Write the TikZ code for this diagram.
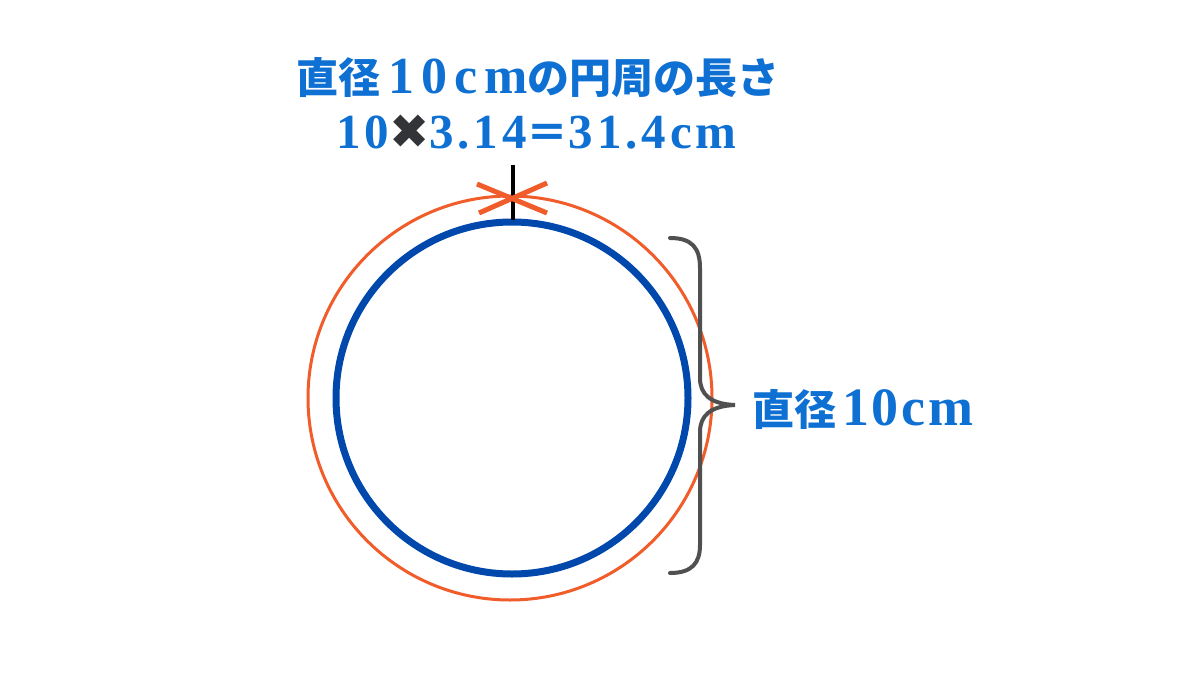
\documentclass[tikz,border=0pt]{standalone}
\usepackage{fontspec}
\newfontfamily\cjk{Noto Sans CJK JP}
\newfontfamily\lat{Liberation Serif}
\newfontfamily\sym{DejaVu Sans}
\definecolor{txtblue}{RGB}{14,112,210}
\definecolor{circblue}{RGB}{0,72,172}
\definecolor{corange}{RGB}{240,92,42}
\definecolor{bracegray}{RGB}{80,80,80}
\definecolor{xgray}{RGB}{50,52,56}
\tikzset{
  lbl/.style={inner sep=0pt, text=txtblue, font=\fontsize{42}{42}\selectfont},
}
\newcommand{\jp}[1]{{\cjk\bfseries #1}}
\newcommand{\la}[3]{{\lat\bfseries\fontsize{#1}{#1}\selectfont\addfontfeature{LetterSpace=#2}#3}}
\begin{document}
\begin{tikzpicture}[x=1pt,y=-1pt]
\useasboundingbox (0,0) rectangle (1200,675);
% circles
\draw[corange, line width=3pt] (510,398) circle[radius=202];
\draw[circblue, line width=7pt] (512,398) circle[radius=176];
% tick
\coordinate (tt) at (513,165);
\coordinate (tb) at (513,220);
\draw[black, line width=4pt] (tt) -- (tb);
% orange X
\coordinate (x1) at (477,184);
\coordinate (x2) at (547,213);
\coordinate (x3) at (479,213);
\coordinate (x4) at (547,183);
\draw[corange, line width=5pt] (x1) -- (x2);
\draw[corange, line width=5pt] (x3) -- (x4);
% brace
\draw[bracegray, line width=4pt, line cap=round]
  (670,238) .. controls (692,238) and (700,248) .. (700,268) -- (700,378)
  .. controls (700,394) and (710,404) .. (735,405)
  .. controls (710,406) and (700,416) .. (700,432) -- (700,545)
  .. controls (700,563) and (692,573) .. (670,573);
% texts
\node[lbl, anchor=base west] (t1) at (296,93) {\jp{直径}\hspace{8pt}\la{52}{13.5}{10cm}\jp{の円周の長さ}};
\node[lbl, anchor=base west] (t2) at (336,148) {\la{49}{8}{10}{\sym\bfseries\fontsize{48}{48}\selectfont\color{xgray}✖}\la{49}{8}{3.14}\jp{＝}\la{49}{8}{31.4cm}};
\node[lbl, anchor=base west] (t3) at (752,425) {\jp{直径}\hspace{6pt}\la{54}{5}{10cm}};
\end{tikzpicture}
\end{document}
